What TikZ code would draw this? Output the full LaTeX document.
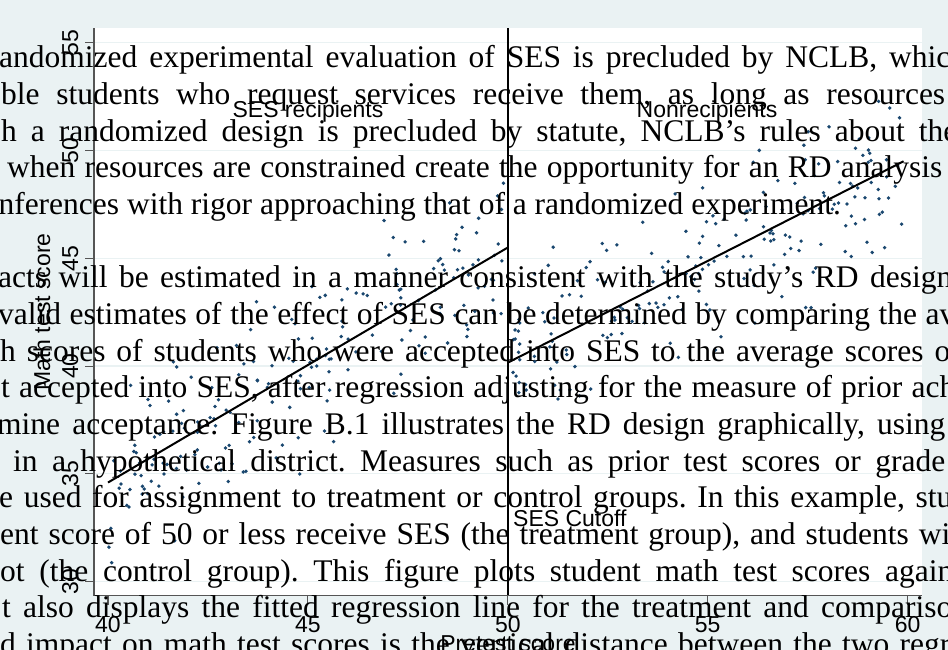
\documentclass[tikz,border=0pt]{standalone}
\usepackage{fontspec}
\setmainfont{Liberation Serif}
\newfontfamily\graphfont{Liberation Sans}
\frenchspacing
\definecolor{bgblue}{RGB}{234,242,243}
\definecolor{dotblue}{RGB}{26,71,111}
\definecolor{axisgray}{RGB}{85,85,85}
\tikzset{
	scatterdot/.style={fill=dotblue},
	fitline/.style={color=black,line width=2pt},
	axisline/.style={color=axisgray,line width=1.1pt},
	gridrule/.style={color=bgblue,line width=1.2pt},
	graphtext/.style={inner sep=0pt,font=\graphfont\fontsize{23}{23}\selectfont},
	bodyline/.style={inner sep=0pt,anchor=base west,font=\fontsize{31.5}{36}\selectfont},
}
\begin{document}
\begin{tikzpicture}[x=1pt,y=1pt]
	\useasboundingbox (0,0) rectangle (948,650);
	\fill[bgblue] (0,0) rectangle (948,650);
	\fill[white] (94,54) rectangle (921.7,622);

	\begin{scope}[x=39.98pt,y=21.56pt,shift={(-1491.2pt,-578.5pt)}]
	\foreach \v in {30,35,...,55}
		\draw[gridrule] (39.65,\v) -- (60.35,\v);

	\begin{scope}
		\clip (39.65,29.34) rectangle (60.35,55.68);
		\pgfmathsetseed{4172}
		\foreach \i in {1,...,200}{
			\pgfmathsetmacro{\px}{40+9.9*rnd}
			\pgfmathsetmacro{\py}{34.6+1.09*(\px-40)+1.9*(rand+rand+rand)}
			\fill[scatterdot] (\px,\py) circle[radius=1.9pt];
		}
		\foreach \i in {1,...,200}{
			\pgfmathsetmacro{\px}{50.1+9.8*rnd}
			\pgfmathsetmacro{\py}{40.16+0.94*(\px-50)+1.9*(rand+rand+rand)}
			\fill[scatterdot] (\px,\py) circle[radius=1.9pt];
		}
	\end{scope}

	\coordinate (lowstart) at (40,34.6);
	\coordinate (lowend) at (50,45.5);
	\coordinate (highstart) at (50,40.16);
	\coordinate (highend) at (59.9,49.5);
	\draw[fitline] (lowstart) -- (lowend);
	\draw[fitline] (highstart) -- (highend);

	\coordinate (cuttop) at (50,55.68);
	\coordinate (cutfoot) at (50,29.34);
	\draw[fitline] (cuttop) -- (cutfoot);

	\coordinate (origin) at (39.65,29.34);
	\draw[axisline] (39.65,55.68) -- (origin) -- (60.35,29.34);
	\foreach \v in {30,35,...,55}{
		\draw[axisline] (39.65,\v) -- ++(-9pt,0);
		\node[graphtext,rotate=90,anchor=base] (ytick\v) at ([xshift=-16pt]39.65,\v) {\v};
	}
	\foreach \d in {40,45,...,60}{
		\draw[axisline] (\d,29.34) -- ++(0,-9pt);
		\node[graphtext,anchor=base] (xtick\d) at ([yshift=-37pt]\d,29.34) {\d};
	}
	\end{scope}

	\node[graphtext,anchor=base] (treated) at (308,532) {SES recipients};
	\node[graphtext,anchor=base] (untreated) at (707,532) {Nonrecipients};
	\node[graphtext,anchor=base west] (cutoff) at (513,123) {SES Cutoff};
	\node[graphtext,rotate=90,anchor=base] (ytitle) at (50,338) {Math test score};
	\node[graphtext,anchor=base] (xtitle) at (508,-2) {Pretest score};

	\node[bodyline] (row1) at (-1,582) {\makebox[951pt][s]{andomized experimental evaluation of SES is precluded by NCLB, whic}};
	\node[bodyline] (row2) at (1,545.35) {\makebox[944pt][s]{ble students who request services receive them, as long as resources}};
	\node[bodyline] (row3) at (1,508.7) {\makebox[956pt][s]{h a randomized design is precluded by statute, NCLB’s rules about the}};
	\node[bodyline] (row4) at (7,472.05) {\makebox[935pt][s]{when resources are constrained create the opportunity for an RD analysis}};
	\node[bodyline,anchor=base east] (row5) at (841,435.4) {nferences with rigor approaching that of a randomized experiment.};

	\node[bodyline] (row6) at (-2,362.1) {\makebox[954pt][s]{acts will be estimated in a manner consistent with the study’s RD design}};
	\node[bodyline] (row7) at (-2,325.45) {\makebox[957pt][s]{valid estimates of the effect of SES can be determined by comparing the av}};
	\node[bodyline] (row8) at (0,288.8) {\makebox[950pt][s]{h scores of students who were accepted into SES to the average scores o}};
	\node[bodyline] (row9) at (1,252.15) {\makebox[954pt][s]{t accepted into SES, after regression adjusting for the measure of prior ach}};
	\node[bodyline] (row10) at (-3,215.5) {\makebox[948pt][s]{mine acceptance. Figure B.1 illustrates the RD design graphically, using}};
	\node[bodyline] (row11) at (13,178.85) {\makebox[932pt][s]{in a hypothetical district. Measures such as prior test scores or grade}};
	\node[bodyline] (row12) at (-1,142.2) {\makebox[953pt][s]{e used for assignment to treatment or control groups. In this example, stu}};
	\node[bodyline] (row13) at (0,105.55) {\makebox[950pt][s]{ent score of 50 or less receive SES (the treatment group), and students wi}};
	\node[bodyline] (row14) at (0,68.9) {\makebox[953pt][s]{ot (the control group). This figure plots student math test scores again}};
	\node[bodyline] (row15) at (2,32.25) {\makebox[950pt][s]{t also displays the fitted regression line for the treatment and compariso}};
	\node[bodyline] (row16) at (0,-4.4) {\makebox[950pt][s]{d impact on math test scores is the vertical distance between the two regr}};
\end{tikzpicture}
\end{document}
